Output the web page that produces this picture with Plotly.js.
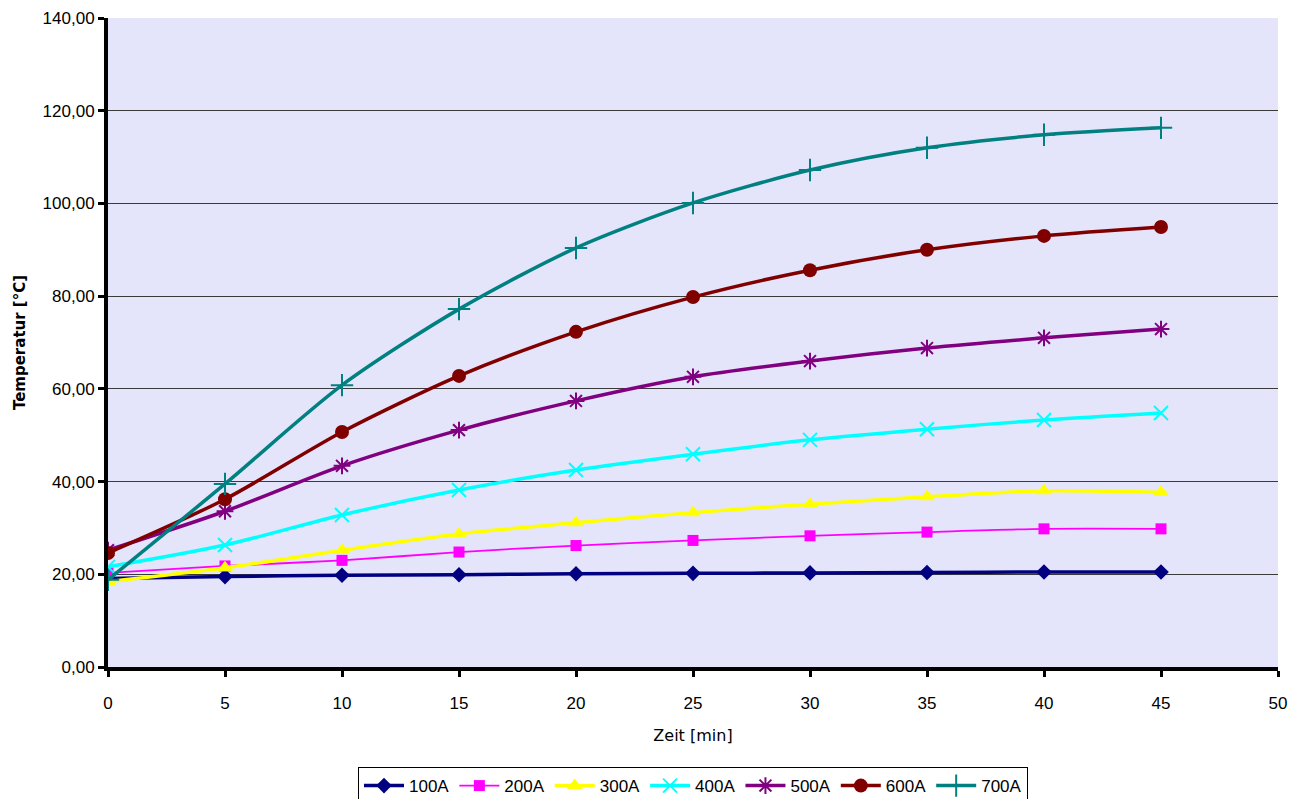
<!DOCTYPE html>
<html>
<head>
<meta charset="utf-8">
<script src="https://cdn.plot.ly/plotly-3.0.1.min.js"></script>
<style>html,body{margin:0;padding:0;background:#fff;}#chart{width:1297px;height:799px;}</style>
</head>
<body>
<div id="chart"></div>
<script>
const zeit = [0, 5, 10, 15, 20, 25, 30, 35, 40, 45];
const seriesNames = ["100A", "200A", "300A", "400A", "500A", "600A", "700A"];
const t100 = [19.1, 19.5, 19.8, 19.9, 20.1, 20.2, 20.3, 20.4, 20.5, 20.5];
const t200 = [20.3, 21.8, 23.0, 24.8, 26.2, 27.3, 28.3, 29.1, 29.8, 29.8];
const t300 = [18.4, 21.4, 25.2, 28.7, 31.1, 33.3, 35.1, 36.7, 38.0, 37.7];
const t400 = [21.6, 26.3, 32.8, 38.2, 42.5, 45.9, 49.0, 51.3, 53.3, 54.8];
const t500 = [25.2, 33.6, 43.4, 51.1, 57.4, 62.6, 66.0, 68.8, 71.0, 72.9];
const t600 = [24.6, 36.2, 50.7, 62.8, 72.3, 79.8, 85.6, 90.0, 93.0, 94.9];
const t700 = [18.8, 39.5, 60.8, 77.2, 90.4, 100.1, 107.2, 112.0, 114.8, 116.3];
const yTicks = [0, 20, 40, 60, 80, 100, 120, 140];
const xTicks = [0, 5, 10, 15, 20, 25, 30, 35, 40, 45, 50];

const values = [t100, t200, t300, t400, t500, t600, t700];
const colors = ["#000080", "#FF00FF", "#FFFF00", "#00FFFF", "#800080", "#800000", "#008080"];
const symbols = ["diamond", "square", "triangle-up", "x-thin-open", "asterisk-open", "circle", "cross-thin-open"];
const sizes = [12, 11, 14, 14, 14, 14, 16];
const widths = [3.5, 1.8, 3.5, 3.5, 3.5, 3.5, 3.5];

const traces = values.map((v, i) => ({
  x: zeit, y: v, name: seriesNames[i], type: "scatter", mode: "lines+markers",
  line: {color: colors[i], width: widths[i], shape: "spline", smoothing: 0.8},
  marker: {symbol: symbols[i], size: sizes[i], color: colors[i],
           line: {color: colors[i], width: (i === 3 || i === 4 || i === 6) ? 2 : 0}}
}));

const font = "Liberation Sans, Arial, sans-serif";
const layout = {
  width: 1297, height: 799,
  margin: {l: 108, r: 19, t: 18, b: 132, autoexpand: false},
  paper_bgcolor: "#ffffff",
  plot_bgcolor: "#E4E4FA",
  font: {family: font, size: 16, color: "#000"},
  separators: ",.",
  showlegend: true,
  legend: {orientation: "h", x: 0.5, xanchor: "center", yref: "container", y: 0.04, yanchor: "top",
           bordercolor: "#000", borderwidth: 1, bgcolor: "#fff",
           font: {family: font, size: 17, color: "#000"}, itemwidth: 40, tracegroupgap: 0},
  xaxis: {range: [0, 50], tickvals: xTicks, ticktext: xTicks.map(String),
          showgrid: false, zeroline: false, showline: true, linecolor: "#000", linewidth: 4,
          ticks: "outside", ticklen: 6, tickwidth: 3, tickcolor: "#000", automargin: false,
          ticklabelstandoff: 12,
          tickfont: {family: font, size: 17},
          title: {text: "Zeit [min]", font: {family: "DejaVu Sans, sans-serif", size: 16}, standoff: 18}},
  yaxis: {range: [0, 140], tickvals: yTicks, tickformat: ".2f", automargin: false,
          showgrid: true, gridcolor: "#3a3a3a", gridwidth: 1, zeroline: false,
          showline: true, linecolor: "#000", linewidth: 4,
          ticks: "outside", ticklen: 6, tickwidth: 3, tickcolor: "#000",
          tickfont: {family: font, size: 17},
          title: {text: "<b>Temperatur [°C]</b>", font: {family: "DejaVu Sans, sans-serif", size: 15}, standoff: 14}}
};
Plotly.newPlot("chart", traces, layout, {displayModeBar: false, staticPlot: true});
</script>
</body>
</html>
